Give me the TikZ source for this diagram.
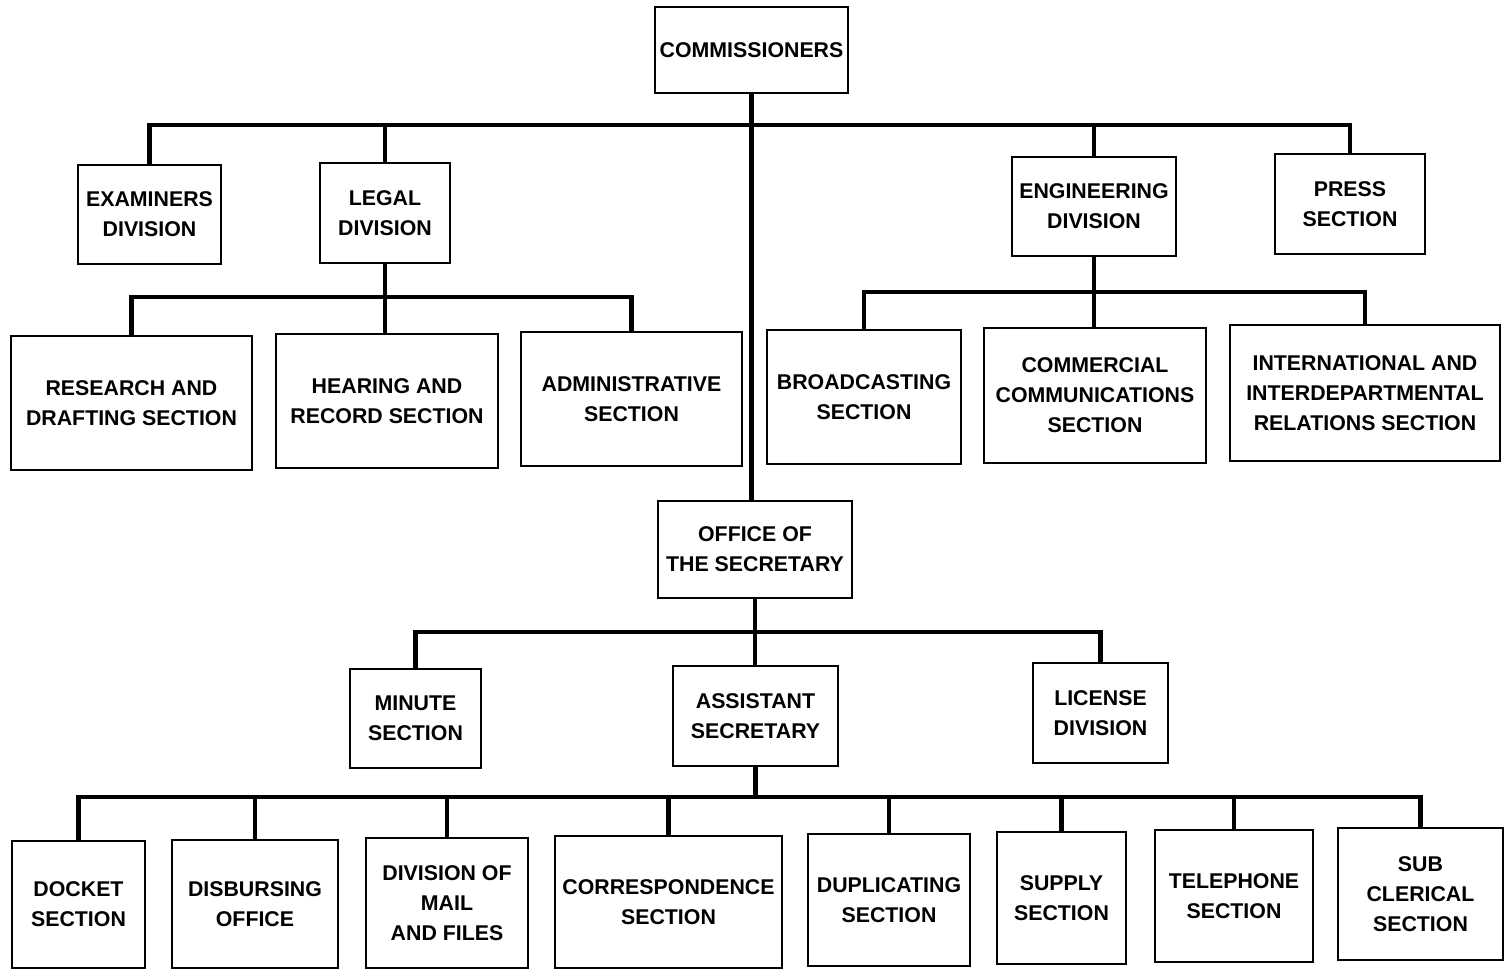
\documentclass[tikz,border=0pt]{standalone}
\usepackage{fontspec}
\setmainfont{Liberation Sans}
\usepackage{tikz}

\newcommand{\orgfont}{\fontsize{16}{22.5}\selectfont\bfseries}

\begin{document}
\begin{tikzpicture}[x=0.75pt,y=0.75pt,yscale=-1,xscale=1,
  unitbox/.style 2 args={draw, line width=1.8pt, rectangle, align=center, inner sep=0pt,
    minimum width=#1*0.75pt, minimum height=#2*0.75pt, font=\orgfont},
  link/.style={line width=3.6pt}]
%set diagram left start at 0, and has height of 970
\fill[white] (0,0) rectangle (1511,970);
\useasboundingbox (0,0) rectangle (1511,970);

%Shape: Rectangle [top]
\node[unitbox={193}{86}] (comm) at (751.5,50) {COMMISSIONERS};

%Shape: Rectangle [divisions]
\node[unitbox={143}{99}] (exam) at (149.5,214.5) {EXAMINERS\\DIVISION};
\node[unitbox={130}{100}] (legal) at (385,213) {LEGAL\\DIVISION};
\node[unitbox={164}{99}] (eng) at (1094,206.5) {ENGINEERING\\DIVISION};
\node[unitbox={150}{100}] (press) at (1350,204) {PRESS\\SECTION};

%Shape: Rectangle [legal sections]
\node[unitbox={241}{134}] (rad) at (131.5,403) {RESEARCH AND\\DRAFTING SECTION};
\node[unitbox={222}{134}] (hear) at (387,401) {HEARING AND\\RECORD SECTION};
\node[unitbox={221}{134}] (adm) at (631.5,399) {ADMINISTRATIVE\\SECTION};

%Shape: Rectangle [engineering sections]
\node[unitbox={194}{134}] (brd) at (864,397) {BROADCASTING\\SECTION};
\node[unitbox={222}{135}] (com) at (1095,395.5) {COMMERCIAL\\COMMUNICATIONS\\SECTION};
\node[unitbox={270}{136}] (intl) at (1365,393) {INTERNATIONAL AND\\INTERDEPARTMENTAL\\RELATIONS SECTION};

%Shape: Rectangle [secretary]
\node[unitbox={194}{97}] (sec) at (755,549.5) {OFFICE OF\\THE SECRETARY};
\node[unitbox={131}{99}] (min) at (415.5,718.5) {MINUTE\\SECTION};
\node[unitbox={165}{100}] (asst) at (755.5,716) {ASSISTANT\\SECRETARY};
\node[unitbox={135}{100}] (lic) at (1100.5,713) {LICENSE\\DIVISION};

%Shape: Rectangle [clerical sections]
\node[unitbox={133}{127}] (dock) at (78.5,904.5) {DOCKET\\SECTION};
\node[unitbox={166}{128}] (disb) at (255,904) {DISBURSING\\OFFICE};
\node[unitbox={162}{130}] (mail) at (447,903) {DIVISION OF\\MAIL\\AND FILES};
\node[unitbox={227}{132}] (corr) at (668.5,902) {CORRESPONDENCE\\SECTION};
\node[unitbox={162}{132}] (dup) at (889,900) {DUPLICATING\\SECTION};
\node[unitbox={129}{132}] (sup) at (1061.5,898) {SUPPLY\\SECTION};
\node[unitbox={158}{132}] (tel) at (1234,896) {TELEPHONE\\SECTION};
\node[unitbox={165}{132}] (sub) at (1420.5,894) {SUB\\CLERICAL\\SECTION};

%Straight Lines [buses]
\coordinate (b1) at (751.5,125);
\coordinate (b2) at (387,297);
\coordinate (b3) at (1094,292);
\coordinate (b4) at (755,632);
\coordinate (b5) at (755.5,797);

\draw[link] (comm.south) -- (comm.south |- sec.north);
\draw[link] (exam.north) |- (b1) -| (press.north);
\draw[link] (legal.north) -- (legal.north |- b1);
\draw[link] (eng.north) -- (eng.north |- b1);

\draw[link] (rad.north) |- (b2) -| (adm.north);
\draw[link] (legal.south) -- (legal.south |- hear.north);

\draw[link] (brd.north) |- (b3) -| (intl.north);
\draw[link] (eng.south) -- (eng.south |- com.north);

\draw[link] (min.north) |- (b4) -| (lic.north);
\draw[link] (sec.south) -- (sec.south |- asst.north);

\draw[link] (dock.north) |- (b5) -| (sub.north);
\draw[link] (asst.south) -- (asst.south |- b5);
\foreach \n in {disb,mail,corr,dup,sup,tel}
  \draw[link] (\n.north) -- (\n.north |- b5);

\end{tikzpicture}
\end{document}
